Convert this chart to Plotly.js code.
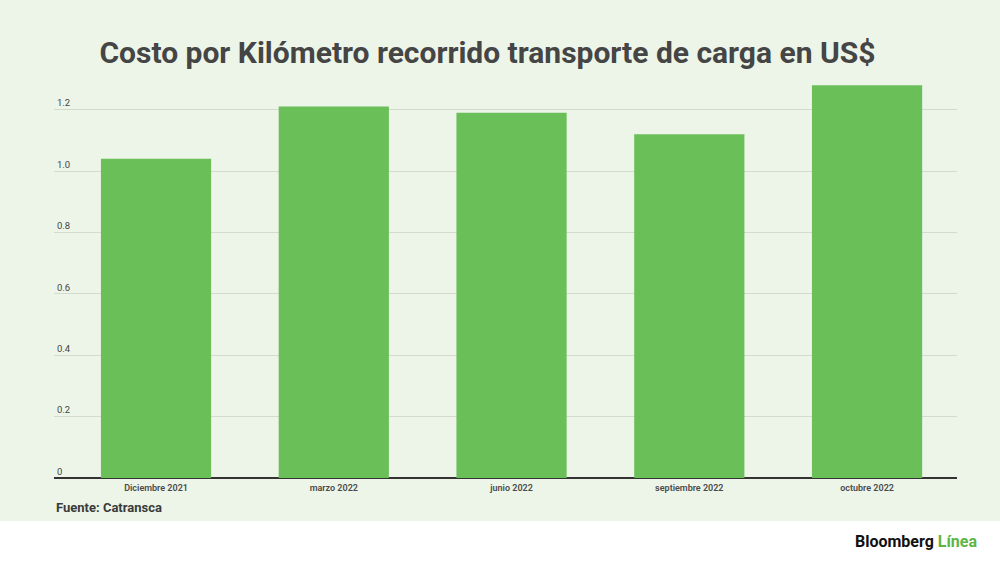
<!DOCTYPE html>
<html>
<head>
<meta charset="utf-8">
<script src="https://cdn.plot.ly/plotly-3.0.1.min.js"></script>
<style>html,body{margin:0;padding:0;background:#fff}#chart{width:1000px;height:562px}</style>
</head>
<body>
<div id="chart"></div>
<script>
const categories = ["Diciembre 2021", "marzo 2022", "junio 2022", "septiembre 2022", "octubre 2022"];
const costos = [1.04, 1.21, 1.19, 1.12, 1.28];
const yTickVals = [0, 0.2, 0.4, 0.6, 0.8, 1.0, 1.2];
const yTickText = ["0", "0.2", "0.4", "0.6", "0.8", "1.0", "1.2"];

const trace = {
  type: "bar",
  x: categories,
  y: costos,
  marker: { color: "#6ABF59", line: { width: 0 } },
  hoverinfo: "x+y"
};

const layout = {
  width: 1000,
  height: 562,
  margin: { l: 54, r: 43, t: 79, b: 84 },
  paper_bgcolor: "#EDF5E9",
  plot_bgcolor: "rgba(0,0,0,0)",
  font: { family: "Roboto, 'Open Sans', sans-serif", color: "#444" },
  title: {
    text: "<b>Costo por Kilómetro recorrido transporte de carga en US$</b>",
    font: { family: "Roboto, sans-serif", size: 30, color: "#454545" },
    x: 0.48, xanchor: "center", xref: "paper",
    y: 0.907, yanchor: "middle", yref: "container"
  },
  bargap: 0.38,
  showlegend: false,
  xaxis: {
    type: "category",
    range: [-0.574, 4.506],
    showgrid: false,
    zeroline: false,
    showline: false,
    ticks: "",
    tickfont: { size: 9, weight: 600, color: "#4a4a4a", family: "Roboto, sans-serif" },
    ticklabelstandoff: 3
  },
  yaxis: {
    range: [0, 1.3],
    tickvals: yTickVals,
    ticktext: yTickText,
    ticklabelposition: "inside top",
    tickfont: { size: 9.5, color: "#444", family: "Roboto, sans-serif" },
    showgrid: true,
    gridcolor: "#D3DBCF",
    gridwidth: 1,
    zeroline: true,
    zerolinecolor: "#333",
    zerolinewidth: 1.5,
    showline: false,
    ticks: ""
  },
  shapes: [
    {
      type: "rect", layer: "below",
      xref: "paper", yref: "paper",
      x0: -0.1, x1: 1.1, y0: -0.25, y1: -0.1078,
      fillcolor: "#FFFFFF", line: { width: 0 }
    }
  ],
  annotations: [
    {
      text: "<b>Fuente: Catransca</b>",
      xref: "paper", yref: "paper",
      x: 0.0, y: -0.0727, xanchor: "left", yanchor: "middle",
      showarrow: false,
      font: { size: 13, color: "#3a3a3a", family: "Roboto, sans-serif" }
    },
    {
      text: "<b>Bloomberg</b> <b><span style='color:#5DB546'>Línea</span></b>",
      xref: "paper", yref: "paper",
      x: 1.0244, y: -0.1579, xanchor: "right", yanchor: "middle",
      showarrow: false,
      font: { size: 16, color: "#111", family: "Roboto, sans-serif", weight: 900 }
    }
  ]
};

Plotly.newPlot("chart", [trace], layout, { displayModeBar: false, staticPlot: true });
</script>
</body>
</html>
